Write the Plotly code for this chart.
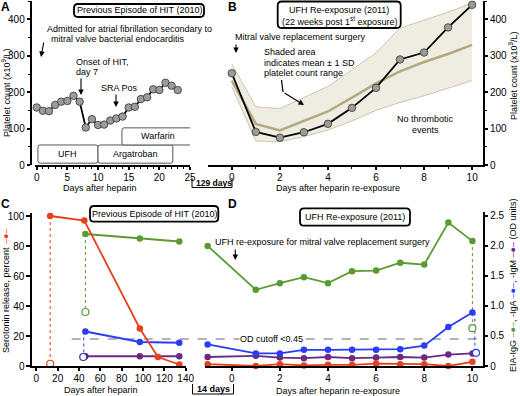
import plotly.graph_objects as go

W, H = 520, 396
FONT = "Liberation Sans"

# ---------------- data ----------------
# Panel A: previous episode of HIT (2010)
daysA = list(range(0, 24))
plateletA = [158, 149, 148, 165, 174, 176, 190, 174, 103, 126, 110, 111, 122, 128, 133,
             158, 160, 181, 186, 208, 206, 226, 218, 206]
treat_names = ["UFH", "Argatroban", "Warfarin"]
treat_start = [0.2, 10, 13.9]
treat_end = [10, 22.2, 25.8]
treat_low = [5, 5, 55]
treat_high = [55, 55, 102]

# Panel B: UFH re-exposure (2011)
daysB = list(range(0, 11))
plateletB = [252, 91, 75, 90, 113, 157, 212, 290, 309, 378, 440]
meanB = [232, 113, 95, 120, 147, 185, 224, 257, 283, 305, 330]
upperB = [278, 160, 155, 186, 216, 262, 308, 376, 398, 420, 445]
lowerB = [215, 66, 64, 78, 96, 121, 150, 172, 190, 210, 232]

# Panel C: previous episode serology
daysC_sra = [13, 45, 97, 114, 134]
sraC = [100, 97, 25, 6, 1]
daysC_ab = [46, 97, 134]
iggC = [88, 85, 83]
igaC = [23, 16, 15.5]
igmC = [6.5, 6.5, 6.5]
sra_open = (13, 1.5)
igg_open = (46, 36)
iga_open = (44, 6)

# Panel D: re-exposure serology
daysD = [-1, 1, 2, 3, 4, 5, 6, 7, 8, 9, 10]
iggD = [2.0, 1.27, 1.38, 1.48, 1.38, 1.58, 1.59, 1.72, 1.69, 2.39, 2.08]
igaD = [0.36, 0.21, 0.21, 0.27, 0.27, 0.27, 0.27, 0.28, 0.34, 0.65, 0.89]
igmD = [0.15, 0.17, 0.14, 0.13, 0.15, 0.13, 0.14, 0.15, 0.14, 0.19, 0.21]
sraD = [0.03, 0.0, 0.03, 0.01, 0.02, 0.02, 0.04, 0.03, 0.03, 0.0, 0.07]
igg_openD = (10, 0.63)
iga_openD = (10.15, 0.22)
od_cutoff = 0.45

ticksA_x = [0, 5, 10, 15, 20, 25]
ticksA_y = [0, 100, 200, 300, 400]
ticksB_x = [0, 2, 4, 6, 8, 10]
ticksC_x = [0, 20, 40, 60, 80, 100, 120, 140]
ticksC_y = [0, 20, 40, 60, 80, 100]
ticksD_y = [0, 0.5, 1.0, 1.5, 2.0, 2.5]
ticksD_ylab = ["0", "0.5", "1.0", "1.5", "2.0", "2.5"]

RED = "#e8401c"
GREEN = "#5a9a32"
BLUE = "#2a3cf5"
PURPLE = "#6a2a80"

# ---------------- helpers ----------------
def X(px):
    return px / W

def Y(py):
    return 1 - py / H

fig = go.Figure()

def line_markers(x, y, color, xa, ya, size=6.5, lw=1.8):
    fig.add_trace(go.Scatter(x=x, y=y, mode="lines+markers", xaxis=xa, yaxis=ya,
                             line=dict(color=color, width=lw),
                             marker=dict(size=size, color=color),
                             cliponaxis=False, showlegend=False, hoverinfo="skip"))

def dotted(x, y, color, xa, ya):
    fig.add_trace(go.Scatter(x=x, y=y, mode="lines", xaxis=xa, yaxis=ya,
                             line=dict(color=color, width=1, dash="dot"),
                             cliponaxis=False, showlegend=False, hoverinfo="skip"))

def open_marker(pt, color, xa, ya):
    fig.add_trace(go.Scatter(x=[pt[0]], y=[pt[1]], mode="markers", xaxis=xa, yaxis=ya,
                             marker=dict(size=7, color="white", line=dict(color=color, width=1.2)),
                             cliponaxis=False, showlegend=False, hoverinfo="skip"))

annotations = []
shapes = []

def txt(s, x, y, size=9, xanchor="center", angle=0, bold=False, color="black", bg=None):
    if bold:
        s = "<b>" + s + "</b>"
    d = dict(text=s, x=X(x), y=Y(y), xref="paper", yref="paper", showarrow=False,
             xanchor=xanchor, yanchor="middle", textangle=angle,
             font=dict(size=size, family=FONT, color=color))
    if bg:
        d["bgcolor"] = bg
    annotations.append(d)

def arrow(x0, y0, x1, y1):
    annotations.append(dict(text="", x=X(x1), y=Y(y1), xref="paper", yref="paper",
                            showarrow=True, ax=x0 - x1, ay=y0 - y1, arrowhead=2,
                            arrowsize=1, arrowwidth=1.1, arrowcolor="black", standoff=0))

def rrect(x0, y0, x1, y1, r=4, lw=1.8, color="black"):
    p = (f"M {X(x0 + r)},{Y(y0)} L {X(x1 - r)},{Y(y0)} Q {X(x1)},{Y(y0)} {X(x1)},{Y(y0 + r)} "
         f"L {X(x1)},{Y(y1 - r)} Q {X(x1)},{Y(y1)} {X(x1 - r)},{Y(y1)} "
         f"L {X(x0 + r)},{Y(y1)} Q {X(x0)},{Y(y1)} {X(x0)},{Y(y1 - r)} "
         f"L {X(x0)},{Y(y0 + r)} Q {X(x0)},{Y(y0)} {X(x0 + r)},{Y(y0)} Z")
    shapes.append(dict(type="path", path=p, xref="paper", yref="paper",
                       line=dict(color=color, width=lw), fillcolor="white", layer="below"))

def pline(pts, lw=1.2):
    p = "M " + " L ".join(f"{X(a)},{Y(b)}" for a, b in pts)
    shapes.append(dict(type="path", path=p, xref="paper", yref="paper",
                       line=dict(color="black", width=lw)))

# ---------------- panel A ----------------
for name, x0, x1, y0, y1 in zip(treat_names, treat_start, treat_end, treat_low, treat_high):
    rx, ry = 0.35, 6
    p = (f"M {x0 + rx},{y0} L {x1 - rx},{y0} Q {x1},{y0} {x1},{y0 + ry} L {x1},{y1 - ry} "
         f"Q {x1},{y1} {x1 - rx},{y1} L {x0 + rx},{y1} Q {x0},{y1} {x0},{y1 - ry} "
         f"L {x0},{y0 + ry} Q {x0},{y0} {x0 + rx},{y0} Z")
    shapes.append(dict(type="path", path=p, xref="x", yref="y",
                       line=dict(color="#555555", width=1), fillcolor="white"))
    annotations.append(dict(text=name, x=(x0 + x1) / 2, y=(y0 + y1) / 2, xref="x", yref="y",
                            showarrow=False, font=dict(size=9, family=FONT, color="black")))

fig.add_trace(go.Scatter(x=daysA, y=plateletA, mode="lines+markers", xaxis="x", yaxis="y",
                         line=dict(color="black", width=1.8),
                         marker=dict(size=7.5, color="#9b9b9b", line=dict(color="#333333", width=0.8)),
                         cliponaxis=False, showlegend=False, hoverinfo="skip"))

# ---------------- panel B ----------------
fig.add_trace(go.Scatter(x=daysB, y=lowerB, mode="lines", xaxis="x2", yaxis="y2",
                         line=dict(color="#cdc6a8", width=1), showlegend=False, hoverinfo="skip"))
fig.add_trace(go.Scatter(x=daysB, y=upperB, mode="lines", xaxis="x2", yaxis="y2", fill="tonexty",
                         fillcolor="#efece2", line=dict(color="#cdc6a8", width=1),
                         showlegend=False, hoverinfo="skip"))
fig.add_trace(go.Scatter(x=daysB, y=meanB, mode="lines", xaxis="x2", yaxis="y2",
                         line=dict(color="#b2aa7e", width=2.5), showlegend=False, hoverinfo="skip"))
fig.add_trace(go.Scatter(x=daysB, y=plateletB, mode="lines+markers", xaxis="x2", yaxis="y2",
                         line=dict(color="black", width=1.8),
                         marker=dict(size=7.5, color="#9b9b9b", line=dict(color="#333333", width=0.8)),
                         cliponaxis=False, showlegend=False, hoverinfo="skip"))

# ---------------- panel C ----------------
dotted([sra_open[0], sra_open[0]], [sraC[0], sra_open[1]], RED, "x3", "y3")
dotted([igg_open[0], igg_open[0]], [iggC[0], igg_open[1]], GREEN, "x3", "y3")
dotted([iga_open[0] + 0.5, iga_open[0] + 0.5], [igaC[0], iga_open[1]], BLUE, "x3", "y3")
line_markers(daysC_ab, igmC, PURPLE, "x3", "y3")
line_markers(daysC_ab, igaC, BLUE, "x3", "y3")
line_markers(daysC_ab, iggC, GREEN, "x3", "y3")
line_markers(daysC_sra, sraC, RED, "x3", "y3")
open_marker(sra_open, RED, "x3", "y3")
open_marker(igg_open, GREEN, "x3", "y3")
open_marker(iga_open, "#3a2aa0", "x3", "y3")

# ---------------- panel D ----------------
dotted([igg_openD[0], igg_openD[0]], [iggD[-1], igg_openD[1]], GREEN, "x4", "y4")
dotted([iga_openD[0] - 0.05, iga_openD[0] - 0.05], [igaD[-1], iga_openD[1]], BLUE, "x4", "y4")
line_markers(daysD, igmD, PURPLE, "x4", "y4")
line_markers(daysD, igaD, BLUE, "x4", "y4")
line_markers(daysD, iggD, GREEN, "x4", "y4")
line_markers(daysD, sraD, RED, "x4", "y4")
open_marker(igg_openD, GREEN, "x4", "y4")
open_marker(iga_openD, BLUE, "x4", "y4")

# OD cutoff line spanning C and D
shapes.append(dict(type="line", xref="paper", yref="y4", x0=X(71.7), x1=X(483),
                   y0=od_cutoff, y1=od_cutoff, line=dict(color="#9a9a9a", width=1.6, dash="dash"),
                   layer="below"))
annotations.append(dict(text="OD cutoff &lt;0.45", x=X(271), y=od_cutoff, xref="paper", yref="y4",
                        showarrow=False, bgcolor="white", borderpad=0,
                        font=dict(size=9, family=FONT, color="black")))

# ---------------- text annotations ----------------
# panel letters
txt("A", 5, 6.5, size=12, bold=True)
txt("B", 232, 7, size=12, bold=True)
txt("C", 5, 204, size=12, bold=True)
txt("D", 232, 204, size=12, bold=True)

# A
rrect(74, 4, 204, 17)
txt("Previous Episode of HIT (2010)", 139, 10.5)
txt("Admitted for atrial fibrillation secondary to", 45, 29, xanchor="left")
txt("mitral valve bacterial endocarditis", 49, 39, xanchor="left")
arrow(44, 41, 41, 57)
txt("Onset of HIT,", 74, 62, xanchor="left")
txt("day 7", 74, 71.5, xanchor="left")
arrow(81, 77, 81, 95)
txt("SRA Pos", 99, 88, xanchor="left")
arrow(116, 93, 116, 107)
txt("Platelet count (x10<sup>9</sup>/L)", 6, 93, angle=-90)
txt("Days after heparin", 99.5, 187.5)

# 129 days bracket
txt("129 days", 213.5, 182.5, size=8.5, bold=True)
pline([(192, 178), (192, 187.5), (232, 187.5), (232, 178)], lw=1)

# B
rrect(277.7, 1.5, 400.7, 28)
txt("UFH Re-exposure (2011)", 339, 10.5)
txt("(22 weeks post 1<sup>st</sup> exposure)", 339, 20.5)
txt("Mitral valve replacement surgery", 232.7, 37, xanchor="left")
arrow(236, 43, 236, 53)
txt("Shaded area", 261.7, 52.3, xanchor="left")
txt("indicates mean ± 1 SD", 261.7, 62.7, xanchor="left")
txt("platelet count range", 261.7, 72.7, xanchor="left")
pline([(281.5, 80), (283, 92)], lw=1.3)
arrow(283, 92, 304, 105)
txt("No thrombotic", 425, 119.5)
txt("events", 425, 129.5)
txt("Platelet count (x10<sup>9</sup>/L)", 513, 76, angle=-90)
txt("Days after heparin re-exposure", 338, 187.5)

# C
rrect(90, 206, 218.3, 221.7)
txt("Previous Episode of HIT (2010)", 154, 214)
txt("Serotonin release, percent", 6, 300, angle=-90)
txt("<span style='color:%s'>–●–</span>" % RED, 6, 237, size=9, angle=-90)
txt("Days after heparin", 100.8, 390)
txt("14 days", 213, 388.5, bold=True)
pline([(192.5, 384), (192.5, 394), (233.5, 394), (233.5, 384)], lw=1)

# D
rrect(300, 208.3, 410, 225.7)
txt("UFH Re-exposure (2011)", 355, 217)
txt("UFH re-exposure for mitral valve replacement surgery", 322.5, 241.7)
arrow(235.3, 248, 235.3, 260)
txt("EIA-IgG <span style='color:%s'>–●–</span>, -IgA <span style='color:%s'>–●–</span>, "
    "-IgM <span style='color:%s'>–●–</span> (OD units)" % (GREEN, BLUE, PURPLE),
    513, 286, angle=-90)
txt("Days after heparin re-exposure", 338, 390.5)

# ---------------- axes ----------------
tickfont = dict(size=10, family=FONT, color="black")
common = dict(showgrid=False, zeroline=False, showline=True, linecolor="black", linewidth=1.5,
              ticks="outside", ticklen=3.5, tickwidth=1.5, tickcolor="black", tickfont=tickfont,
              fixedrange=True, automargin=False)
xcommon = dict(common, ticklabelstandoff=-1)
minor_style = dict(ticklen=2.5, ticks="outside", tickwidth=1, tickcolor="black")

fig.update_layout(
    width=W, height=H, margin=dict(l=0, r=0, t=0, b=0, autoexpand=False),
    paper_bgcolor="white", plot_bgcolor="rgba(0,0,0,0)",
    font=dict(family=FONT, size=9, color="black"),
    showlegend=False,
    xaxis=dict(domain=[X(35), X(190)], range=[-0.28, 25], anchor="y", tickvals=ticksA_x,
               minor=dict(dtick=1, **minor_style), **xcommon),
    yaxis=dict(domain=[Y(165), Y(1.2)], range=[0, 450], anchor="free", position=X(31),
               tickvals=ticksA_y, minor=dict(dtick=50, **minor_style), **common),
    xaxis2=dict(domain=[X(208), X(482.7)], range=[-0.99, 10.44], anchor="y2", tickvals=ticksB_x,
                minor=dict(dtick=1, **minor_style), **xcommon),
    yaxis2=dict(domain=[Y(165), Y(1.2)], range=[0, 450], anchor="x2", side="right",
                tickvals=ticksA_y, minor=dict(dtick=50, **minor_style), **common),
    xaxis3=dict(domain=[X(31.7), X(185.7)], range=[-4.3, 140], anchor="y3", tickvals=ticksC_x,
                **xcommon),
    yaxis3=dict(domain=[Y(366), Y(213)], range=[0, 102], anchor="x3", tickvals=ticksC_y,
                **common),
    xaxis4=dict(domain=[X(205), X(483)], range=[-1.11, 10.44], anchor="y4", tickvals=ticksB_x,
                **xcommon),
    yaxis4=dict(domain=[Y(366), Y(211.7)], range=[0, 2.57], anchor="x4", side="right",
                tickvals=ticksD_y, ticktext=ticksD_ylab, **common),
    annotations=annotations,
    shapes=shapes,
)

fig.write_html("out.html", config={"displayModeBar": False},
               post_script="document.body.style.margin='0px';")
